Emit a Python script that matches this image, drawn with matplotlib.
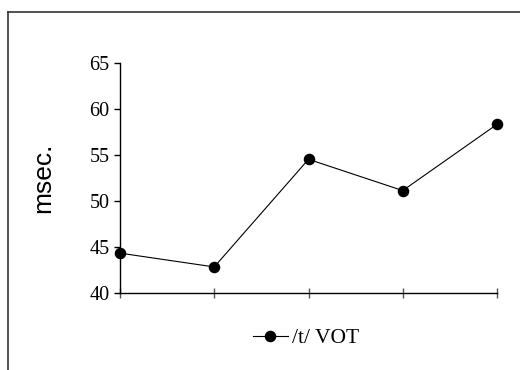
import matplotlib
matplotlib.use("Agg")
from matplotlib import pyplot as plt
from matplotlib.lines import Line2D

positions = [0, 1, 2, 3, 4]
vot = [44.3, 42.8, 54.5, 51.1, 58.3]
yticks = [40, 45, 50, 55, 60, 65]
series_label = "/t/ VOT"

fig = plt.figure(figsize=(5.2, 3.7), dpi=100)
ax = fig.add_axes([120 / 520, 1 - 292.7 / 370, 377 / 520, 230 / 370])

ax.plot(positions, vot, color="black", linewidth=0.8, marker="o",
        markersize=7.3, clip_on=False, label=series_label)

ax.set_xlim(0, 4)
ax.set_ylim(40, 65)
ax.set_xticks(positions)
ax.set_xticklabels([])
ax.set_yticks(yticks)
ax.set_yticklabels([str(v) for v in yticks], family="Liberation Serif", fontsize=14.5)
ax.tick_params(axis="x", direction="inout", length=7.5, width=1, color="#555555")
ax.tick_params(axis="y", direction="out", length=4, width=1, pad=3.5)

for side in ["top", "right"]:
    ax.spines[side].set_visible(False)
for side in ["left", "bottom"]:
    ax.spines[side].set_linewidth(1)

ax.set_ylabel("msec.", family="Liberation Sans", fontsize=19, labelpad=25)

leg = fig.legend(loc="center", bbox_to_anchor=(306 / 520, 1 - 338 / 370),
                 frameon=False, prop={"family": "Liberation Serif", "size": 15.5},
                 handlelength=1.6, handletextpad=0.2)

# outer frame, cut off on the right and bottom
fig.add_artist(Line2D([8 / 520, 1.01], [1 - 12 / 370, 1 - 12 / 370],
                      transform=fig.transFigure, color="#333333", linewidth=1.2))
fig.add_artist(Line2D([8 / 520, 8 / 520], [1 - 12 / 370, -0.01],
                      transform=fig.transFigure, color="#333333", linewidth=1.2))

fig.savefig("out.png", dpi=100)
